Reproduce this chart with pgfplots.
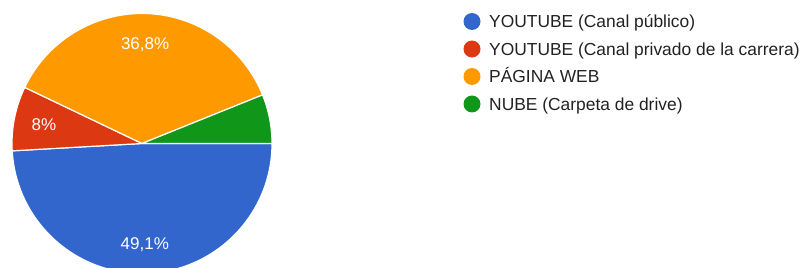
\documentclass[border=0pt]{standalone}
\usepackage{pgfplots}
\usepackage{pgfplotstable}
\pgfplotsset{compat=1.18}
\usepackage{fontspec}
\setmainfont{Liberation Sans}
\definecolor{pieblue}{HTML}{3366CC}
\definecolor{piered}{HTML}{DC3912}
\definecolor{pieorange}{HTML}{FF9900}
\definecolor{piegreen}{HTML}{109618}
\definecolor{legtext}{HTML}{222222}

\pgfplotstableread{
value colour label legend
49.1 pieblue {49,1\%} {YOUTUBE (Canal público)}
8 piered {8\%} {YOUTUBE (Canal privado de la carrera)}
36.8 pieorange {36,8\%} {PÁGINA WEB}
6.1 piegreen {} {NUBE (Carpeta de drive)}
}\piedata

\begin{document}
\begin{tikzpicture}
\begin{axis}[
  x=1bp, y=1bp,
  xmin=0, xmax=801, ymin=0, ymax=268,
  hide axis, clip=true,
  anchor=south west, at={(0,0)},
]
\pgfplotsextra{
  \fontsize{17bp}{20bp}\selectfont
  \gdef\pcum{0}
  \pgfplotstablegetrowsof{\piedata}
  \pgfmathtruncatemacro\pN{\pgfplotsretval-1}
  \foreach \i in {0,...,\pN}{
    \pgfplotstablegetelem{\i}{value}\of\piedata \let\pval\pgfplotsretval
    \pgfplotstablegetelem{\i}{colour}\of\piedata \let\pcol\pgfplotsretval
    \pgfplotstablegetelem{\i}{label}\of\piedata \let\plab\pgfplotsretval
    \pgfplotstablegetelem{\i}{legend}\of\piedata \let\pleg\pgfplotsretval
    \pgfmathsetmacro\pa{-\pcum*3.6}
    \pgfmathsetmacro\pb{-(\pcum+\pval)*3.6}
    \pgfmathsetmacro\pm{(\pa+\pb)/2}
    \fill[\pcol, draw=white, line width=1.2bp, line join=round]
      (axis cs:142,124.5) -- ++(\pa:130bp)
      arc[start angle=\pa, end angle=\pb, radius=130bp] -- cycle;
    \path (axis cs:142,124.5) ++(\pm:100bp)
      node[text=white, anchor=base, inner sep=0pt, yshift=-6.1bp] {\plab};
    \pgfmathsetmacro\prow{268-(21.5+27.5*\i)}
    \fill[\pcol] (axis cs:472,\prow) circle[radius=8.5bp];
    \path (axis cs:489,\prow) node[anchor=base west, inner sep=0pt, yshift=-6.2bp, text=legtext, font=\fontsize{17.4bp}{20bp}\selectfont] {\pleg};
    \pgfmathsetmacro\pnew{\pcum+\pval}
    \xdef\pcum{\pnew}
  }
}
\end{axis}
\pgfresetboundingbox
\useasboundingbox (0,0) rectangle (801bp,268bp);
\end{tikzpicture}
\end{document}
